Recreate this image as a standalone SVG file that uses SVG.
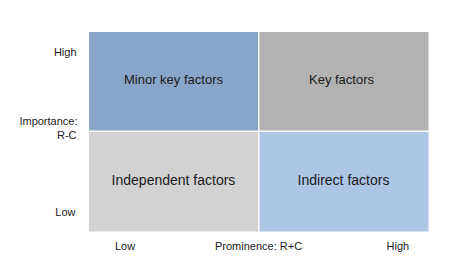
<svg xmlns="http://www.w3.org/2000/svg" width="467" height="273" viewBox="0 0 467 273">
<style>
text{font-family:"Liberation Sans",Arial,sans-serif;fill:#1a1a1a}
.cell{font-size:13px;text-anchor:middle}
.big{font-size:14px}
.ax{font-size:11px}
.r{text-anchor:end}
</style>
<rect width="467" height="273" fill="#fff"/>
<g id="minor-key-factors">
<rect x="89" y="32" width="169" height="98.5" fill="#8aa5ca"/>
<text class="cell" x="173.5" y="84">Minor key factors</text>
</g>
<g id="key-factors">
<rect x="259.5" y="32" width="169" height="98.5" fill="#b2b2b2"/>
<text class="cell" x="341.5" y="84">Key factors</text>
</g>
<g id="independent-factors">
<rect x="89" y="132" width="169" height="99.5" fill="#d2d2d2"/>
<text class="cell big" x="173.5" y="185">Independent factors</text>
</g>
<g id="indirect-factors">
<rect x="259.5" y="132" width="169" height="99.5" fill="#adc6e6"/>
<text class="cell big" x="343.5" y="185">Indirect factors</text>
</g>
<g id="axis-labels">
<text class="ax r" x="76.5" y="56">High</text>
<text class="ax r" x="77.5" y="124.5">Importance:</text>
<text class="ax r" x="76.5" y="139">R-C</text>
<text class="ax r" x="75.5" y="216">Low</text>
<text class="ax" x="115" y="250">Low</text>
<text class="ax" x="215" y="250">Prominence: R+C</text>
<text class="ax" x="386.5" y="250">High</text>
</g>
</svg>
